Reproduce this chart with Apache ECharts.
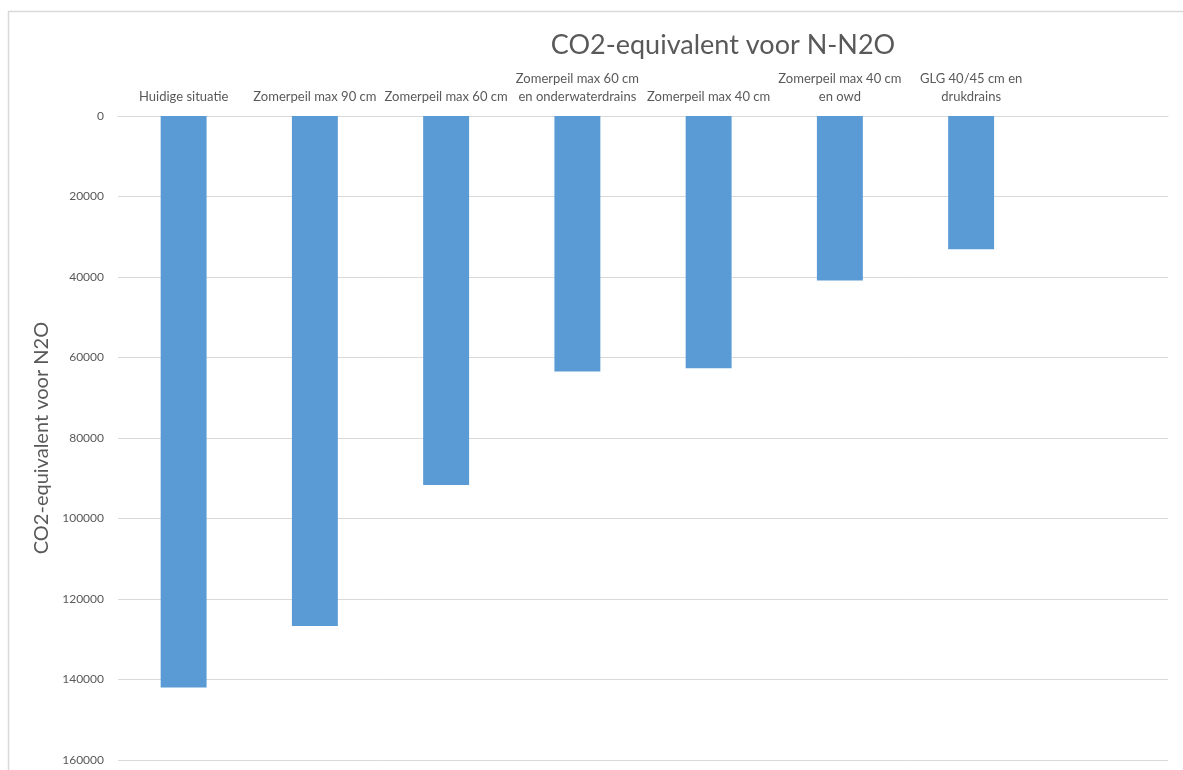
<!DOCTYPE html>
<html>
<head>
<meta charset="utf-8">
<script src="https://cdn.jsdelivr.net/npm/echarts@6/dist/echarts.min.js"></script>
<style>
  html, body { margin: 0; padding: 0; background: #fff; }
  #chart { width: 1183px; height: 770px; }
</style>
</head>
<body>
<div id="chart"></div>
<script>
// scenario's (laatste kolom blijft leeg, zoals in het origineel)
const categories = [
    'Huidige situatie',
    'Zomerpeil max 90 cm',
    'Zomerpeil max 60 cm',
    'Zomerpeil max 60 cm\nen onderwaterdrains',
    'Zomerpeil max 40 cm',
    'Zomerpeil max 40 cm\nen owd',
    'GLG 40/45 cm en\ndrukdrains',
    ''
];
const co2Values = [142000, 126700, 91700, 63500, 62700, 40900, 33100, null];
const yTicks = { min: 0, max: 160000, interval: 20000 };

const textColor = '#595959';
const fontName = 'Lato';

let option = {
    animation: false,
    textStyle: { fontFamily: fontName },
    title: {
        text: 'CO2-equivalent voor N-N2O',
        left: 718,
        top: 27,
        textAlign: 'center',
        textStyle: { fontFamily: fontName, fontSize: 27, fontWeight: 'normal', color: textColor }
    },
    graphic: [{
        type: 'rect',
        shape: { x: 8.5, y: 11.5, width: 1300, height: 900 },
        style: { fill: 'none', stroke: '#d9d9d9', lineWidth: 1.5 },
        silent: true
    }],
    grid: { left: 118, right: 15, top: 116, bottom: 10 },
    xAxis: {
        type: 'category',
        position: 'top',
        data: categories,
        axisLine: { show: true, lineStyle: { color: '#d9d9d9' } },
        axisTick: { show: false },
        axisLabel: {
            interval: 0,
            margin: 10,
            fontSize: 13,
            lineHeight: 18,
            color: textColor,
            fontFamily: fontName
        }
    },
    yAxis: {
        type: 'value',
        inverse: true,
        min: yTicks.min,
        max: yTicks.max,
        interval: yTicks.interval,
        name: 'CO2-equivalent voor N2O',
        nameLocation: 'middle',
        nameGap: 65,
        nameTextStyle: { fontFamily: fontName, fontSize: 20, color: textColor },
        axisLine: { show: false },
        axisTick: { show: false },
        axisLabel: {
            fontSize: 12,
            color: textColor,
            margin: 14,
            fontFamily: fontName,
            formatter: function (v) { return String(v); }
        },
        splitLine: { lineStyle: { color: '#d9d9d9', width: 1 } }
    },
    series: [{
        name: 'CO2-equivalent',
        type: 'bar',
        data: co2Values,
        barWidth: '35%',
        itemStyle: { color: '#5b9bd5' }
    }]
};

echarts.init(document.getElementById('chart')).setOption(option);
</script>
</body>
</html>
